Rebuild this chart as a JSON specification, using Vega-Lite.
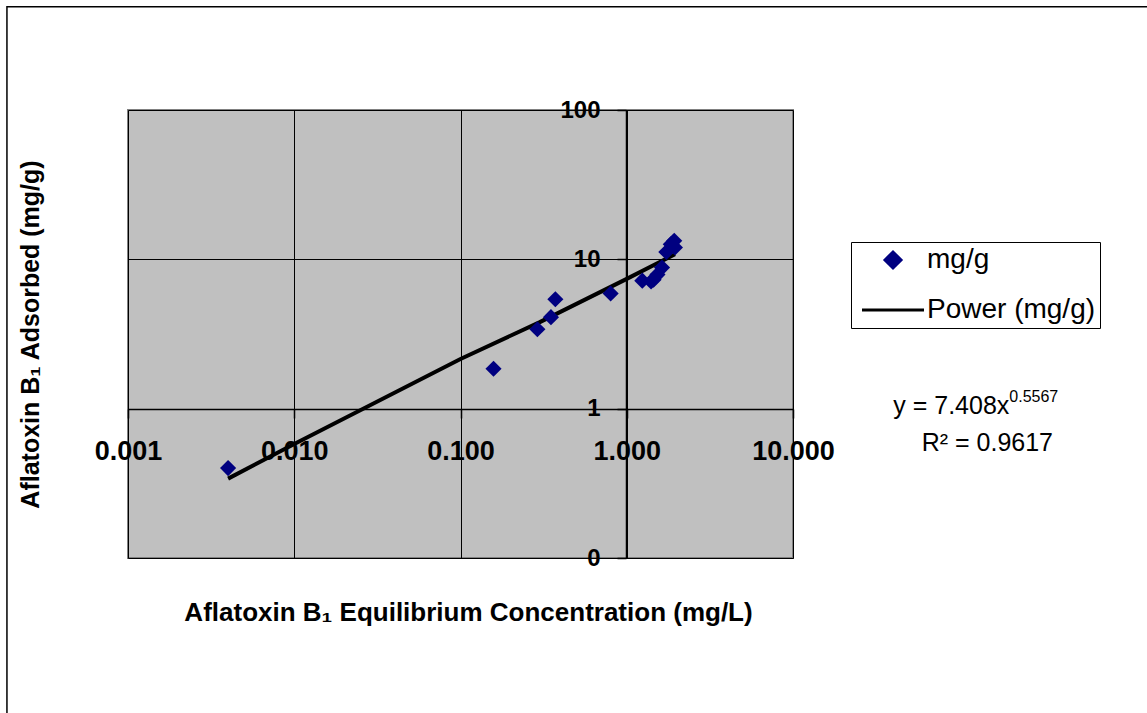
{
  "$schema": "https://vega.github.io/schema/vega-lite/v6.json",
  "width": 665,
  "height": 448,
  "autosize": {"type": "none"},
  "padding": {"left": 128, "top": 110, "right": 354, "bottom": 155},
  "background": "white",
  "config": {
    "font": "Liberation Sans",
    "view": {"fill": "#c0c0c0", "stroke": "#808080", "strokeWidth": 2}
  },
  "datasets": {
    "points": [
      {"conc": 0.004, "adsorbed": 0.40, "series": "mg/g"},
      {"conc": 0.158, "adsorbed": 1.85, "series": "mg/g"},
      {"conc": 0.29, "adsorbed": 3.4, "series": "mg/g"},
      {"conc": 0.35, "adsorbed": 4.1, "series": "mg/g"},
      {"conc": 0.372, "adsorbed": 5.4, "series": "mg/g"},
      {"conc": 0.80, "adsorbed": 5.9, "series": "mg/g"},
      {"conc": 1.24, "adsorbed": 7.2, "series": "mg/g"},
      {"conc": 1.40, "adsorbed": 7.1, "series": "mg/g"},
      {"conc": 1.45, "adsorbed": 7.3, "series": "mg/g"},
      {"conc": 1.53, "adsorbed": 7.9, "series": "mg/g"},
      {"conc": 1.63, "adsorbed": 8.8, "series": "mg/g"},
      {"conc": 1.73, "adsorbed": 11.2, "series": "mg/g"},
      {"conc": 1.84, "adsorbed": 12.6, "series": "mg/g"},
      {"conc": 1.93, "adsorbed": 13.3, "series": "mg/g"},
      {"conc": 1.95, "adsorbed": 12.0, "series": "mg/g"}
    ],
    "trend": [
      {"conc": 0.004, "adsorbed": 0.34, "series": "Power (mg/g)"},
      {"conc": 0.01, "adsorbed": 0.58, "series": "Power (mg/g)"},
      {"conc": 0.1, "adsorbed": 2.15, "series": "Power (mg/g)"},
      {"conc": 0.3, "adsorbed": 3.8, "series": "Power (mg/g)"},
      {"conc": 1.0, "adsorbed": 7.4, "series": "Power (mg/g)"},
      {"conc": 1.95, "adsorbed": 10.8, "series": "Power (mg/g)"}
    ]
  },
  "layer": [
    {
      "data": {"values": [{}]},
      "mark": {"type": "rect", "fill": null, "stroke": "black", "strokeWidth": 1.5},
      "encoding": {
        "x": {"datum": 0.000187, "type": "quantitative"},
        "x2": {"datum": 1650},
        "y": {"datum": 491, "type": "quantitative"},
        "y2": {"datum": 0.008}
      }
    },
    {
      "data": {"name": "trend"},
      "mark": {"type": "line", "strokeWidth": 4},
      "encoding": {
        "x": {
          "field": "conc", "type": "quantitative",
          "scale": {"type": "log", "domain": [0.001, 10], "nice": false},
          "axis": {
            "orient": "bottom", "offset": -149,
            "values": [0.001, 0.01, 0.1, 1, 10], "format": ".3f",
            "grid": true, "gridColor": "#000000", "gridWidth": 1,
            "domainColor": "#000000", "domainWidth": 1.5,
            "tickColor": "#000000", "tickSize": 9, "tickWidth": 1.5,
            "labelFont": "Liberation Sans", "labelFontWeight": "bold", "labelFontSize": 27,
            "labelColor": "#000000", "labelPadding": 20, "labelOverlap": false, "labelFlush": false,
            "title": "Aflatoxin B₁ Equilibrium Concentration (mg/L)",
            "titleFont": "Liberation Sans", "titleFontSize": 26, "titleFontWeight": "bold",
            "titleColor": "#000000", "titleX": 340, "titleY": 203, "titleBaseline": "middle"
          }
        },
        "y": {
          "field": "adsorbed", "type": "quantitative",
          "scale": {"type": "log", "domain": [0.1, 100], "nice": false},
          "axis": {
            "orient": "left", "offset": -498,
            "values": [0.1, 1, 10, 100], "format": ".0f",
            "grid": true, "gridColor": "#000000", "gridWidth": 1,
            "domainColor": "#000000", "domainWidth": 1.5,
            "tickColor": "#000000", "tickSize": 9, "tickWidth": 1.5,
            "labelFont": "Liberation Sans", "labelFontWeight": "bold", "labelFontSize": 24,
            "labelColor": "#000000", "labelPadding": 17, "labelOverlap": false,
            "title": "Aflatoxin B₁ Adsorbed (mg/g)",
            "titleFont": "Liberation Sans", "titleFontSize": 25, "titleFontWeight": "bold",
            "titleColor": "#000000", "titleX": -596, "titleY": 224, "titleAngle": -90,
            "titleBaseline": "middle"
          }
        },
        "color": {
          "field": "series", "type": "nominal",
          "scale": {"domain": ["mg/g", "Power (mg/g)"], "range": ["#000080", "#000000"]},
          "legend": {
            "title": null, "orient": "none", "legendX": 723, "legendY": 132,
            "strokeColor": "#000000", "fillColor": "#ffffff", "padding": 4,
            "symbolSize": 400, "symbolStrokeWidth": 3,
            "symbolOffset": 24,
            "labelFont": "Liberation Sans", "labelFontSize": 28, "labelColor": "#000000",
            "labelOffset": 20, "labelLimit": 400, "rowPadding": 22,
            "encode": {
              "symbols": {
                "update": {
                  "shape": {"signal": "datum.value === 'mg/g' ? 'diamond' : 'M-3.1,0H3.1'"},
                  "size": {"signal": "datum.value === 'mg/g' ? 256 : 400"},
                  "fill": {"signal": "datum.value === 'mg/g' ? '#000080' : 'transparent'"},
                  "stroke": {"signal": "datum.value === 'mg/g' ? 'transparent' : '#000000'"},
                  "strokeWidth": {"value": 3},
                  "opacity": {"value": 1}
                }
              }
            }
          }
        }
      }
    },
    {
      "data": {"name": "points"},
      "mark": {"type": "point", "shape": "diamond", "filled": true, "size": 260, "opacity": 1},
      "encoding": {
        "x": {"field": "conc", "type": "quantitative"},
        "y": {"field": "adsorbed", "type": "quantitative"},
        "color": {"field": "series", "type": "nominal"}
      }
    },
    {
      "data": {"values": [{}]},
      "mark": {"type": "text", "text": "y = 7.408x", "align": "right", "baseline": "middle", "fontSize": 25, "font": "Liberation Sans", "color": "#000000"},
      "encoding": {
        "x": {"datum": 200, "type": "quantitative"},
        "y": {"datum": 1.047, "type": "quantitative"}
      }
    },
    {
      "data": {"values": [{}]},
      "mark": {"type": "text", "text": "0.5567", "align": "left", "baseline": "middle", "fontSize": 16, "font": "Liberation Sans", "color": "#000000", "dx": 0},
      "encoding": {
        "x": {"datum": 200, "type": "quantitative"},
        "y": {"datum": 1.2, "type": "quantitative"}
      }
    },
    {
      "data": {"values": [{}]},
      "mark": {"type": "text", "text": "R² = 0.9617", "align": "center", "baseline": "middle", "fontSize": 25, "font": "Liberation Sans", "color": "#000000"},
      "encoding": {
        "x": {"datum": 147.6, "type": "quantitative"},
        "y": {"datum": 0.591, "type": "quantitative"}
      }
    }
  ]
}
